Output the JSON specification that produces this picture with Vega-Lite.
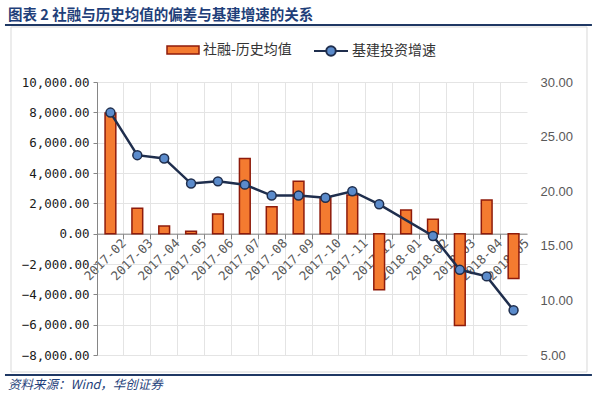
{
  "$schema": "https://vega.github.io/schema/vega-lite/v6.json",
  "width": 430,
  "height": 273,
  "autosize": {"type": "none"},
  "padding": {"left": 97, "top": 82, "right": 73, "bottom": 42},
  "background": "white",
  "title": {
    "text": "图表 2 社融与历史均值的偏差与基建增速的关系",
    "anchor": "start",
    "frame": "group",
    "dx": -89,
    "offset": 0,
    "baseline": "top",
    "font": "Noto Sans CJK SC",
    "fontSize": 14.5,
    "fontWeight": "bold",
    "color": "#1F3F7A"
  },
  "config": {"view": {"stroke": null}},
  "datasets": {
    "main": [
      {"month": "2017-02", "dev": 7950, "infra": 27.2},
      {"month": "2017-03", "dev": 1670, "infra": 23.3},
      {"month": "2017-04", "dev": 500, "infra": 23.0},
      {"month": "2017-05", "dev": 160, "infra": 20.7},
      {"month": "2017-06", "dev": 1300, "infra": 20.9},
      {"month": "2017-07", "dev": 4950, "infra": 20.6},
      {"month": "2017-08", "dev": 1780, "infra": 19.6},
      {"month": "2017-09", "dev": 3450, "infra": 19.6},
      {"month": "2017-10", "dev": 2400, "infra": 19.4},
      {"month": "2017-11", "dev": 2550, "infra": 20.0},
      {"month": "2017-12", "dev": -3700, "infra": 18.8},
      {"month": "2018-01", "dev": 1560, "infra": null},
      {"month": "2018-02", "dev": 950, "infra": 15.9},
      {"month": "2018-03", "dev": -6050, "infra": 12.8},
      {"month": "2018-04", "dev": 2220, "infra": 12.2},
      {"month": "2018-05", "dev": -2950, "infra": 9.1}
    ]
  },
  "layer": [
    {
      "data": {"values": [{"x": -0.2, "x2": 1.1395, "y": 1.2015, "y2": -0.0623}]},
      "mark": {"type": "rect", "fill": null, "stroke": "#d9d9d9", "strokeWidth": 1},
      "encoding": {
        "x": {"field": "x", "type": "quantitative", "scale": {"domain": [0, 1], "nice": false, "zero": false}, "axis": null},
        "x2": {"field": "x2"},
        "y": {"field": "y", "type": "quantitative", "scale": {"domain": [0, 1], "nice": false, "zero": false}, "axis": null},
        "y2": {"field": "y2"}
      }
    },
    {
      "data": {"values": [
        {"x": -0.214, "x2": 1.151, "y": 1.2088},
        {"x": -0.214, "x2": 1.151, "y": -0.0733}
      ]},
      "mark": {"type": "rule", "stroke": "#1F3864", "strokeWidth": 2.2},
      "encoding": {
        "x": {"field": "x", "type": "quantitative", "scale": {"domain": [0, 1], "nice": false, "zero": false}, "axis": null},
        "x2": {"field": "x2"},
        "y": {"field": "y", "type": "quantitative", "scale": {"domain": [0, 1], "nice": false, "zero": false}, "axis": null}
      }
    },
    {
      "data": {"values": [{"x": -0.207, "y": -0.1099, "label": "资料来源：Wind，华创证券"}]},
      "mark": {"type": "text", "align": "left", "baseline": "middle", "font": "Noto Sans CJK SC", "fontSize": 12.5, "fontStyle": "italic", "color": "#1F3F7A"},
      "encoding": {
        "x": {"field": "x", "type": "quantitative", "scale": {"domain": [0, 1], "nice": false, "zero": false}, "axis": null},
        "y": {"field": "y", "type": "quantitative", "scale": {"domain": [0, 1], "nice": false, "zero": false}, "axis": null},
        "text": {"field": "label"}
      }
    },
    {
      "data": {"name": "main"},
      "mark": {"type": "bar", "width": {"band": 0.4}, "stroke": "#8E1B0B", "strokeWidth": 1.5},
      "encoding": {
        "x": {
          "field": "month", "type": "ordinal",
          "scale": {"type": "band", "paddingInner": 0, "paddingOuter": 0, "domain": ["2017-02","2017-03","2017-04","2017-05","2017-06","2017-07","2017-08","2017-09","2017-10","2017-11","2017-12","2018-01","2018-02","2018-03","2018-04","2018-05"]},
          "axis": {
            "orient": "bottom", "offset": -121.33, "title": null,
            "bandPosition": 0, "labelOffset": 13.44,
            "labelAngle": -45, "labelAlign": "right", "labelBaseline": "middle",
            "labelFont": "DejaVu Sans Mono", "labelFontSize": 12.5, "labelColor": "#595959",
            "labelPadding": 2, "tickSize": 5, "tickColor": "#868686", "domainColor": "#868686",
            "grid": true, "gridColor": "#e4e4e4", "labelOverlap": false
          }
        },
        "y": {
          "field": "dev", "type": "quantitative",
          "scale": {"domain": [-8000, 10000], "nice": false},
          "axis": {
            "orient": "left", "title": null, "values": [-8000,-6000,-4000,-2000,0,2000,4000,6000,8000,10000],
            "format": ",.2f", "grid": true, "gridColor": "#e4e4e4", "domainColor": "#868686",
            "tickColor": "#868686", "tickSize": 4, "labelFont": "DejaVu Sans Mono", "labelFontSize": 12.5,
            "labelColor": "#1a1a1a", "labelPadding": 4
          }
        },
        "fill": {
          "datum": "社融-历史均值",
          "scale": {"range": ["#F47B30"]},
          "legend": {
            "orient": "none", "legendX": 69, "legendY": -49, "title": null, "padding": 0,
            "symbolType": "M-1,-0.25H1V0.25H-1Z", "symbolSize": 1024,
            "symbolStrokeColor": "#8E1B0B", "symbolStrokeWidth": 1.5,
            "labelFont": "Noto Sans CJK SC", "labelFontSize": 14, "labelColor": "#333333", "labelOffset": 3
          }
        }
      }
    },
    {
      "data": {"name": "main"},
      "transform": [{"filter": "datum.infra != null"}],
      "mark": {"type": "line", "strokeWidth": 2.5, "point": {"filled": true, "fill": "#5B8BCB", "stroke": "#1F2E4D", "strokeWidth": 1.5, "size": 80}},
      "encoding": {
        "x": {
          "field": "month", "type": "ordinal",
          "scale": {"type": "band", "paddingInner": 0, "paddingOuter": 0, "domain": ["2017-02","2017-03","2017-04","2017-05","2017-06","2017-07","2017-08","2017-09","2017-10","2017-11","2017-12","2018-01","2018-02","2018-03","2018-04","2018-05"]},
          "axis": null
        },
        "y": {
          "field": "infra", "type": "quantitative",
          "scale": {"domain": [5, 30], "nice": false, "zero": false},
          "axis": {
            "orient": "right", "title": null, "values": [5,10,15,20,25,30], "format": ".2f",
            "grid": false, "domain": false, "ticks": false,
            "labelFont": "Liberation Sans", "labelFontSize": 13, "labelColor": "#595959", "labelPadding": 13
          }
        },
        "stroke": {
          "datum": "基建投资增速",
          "scale": {"range": ["#1F2E4D"]},
          "legend": {
            "orient": "none", "legendX": 216, "legendY": -49, "title": null, "padding": 0,
            "symbolType": "M-1,0H-0.28M0.28,0H1M-0.28,0A0.28,0.28 0 1,0 0.28,0A0.28,0.28 0 1,0 -0.28,0Z",
            "symbolSize": 1156, "symbolStrokeWidth": 2, "symbolFillColor": "#5B8BCB",
            "labelFont": "Noto Sans CJK SC", "labelFontSize": 14, "labelColor": "#333333", "labelOffset": 3,
            "encode": {"symbols": {"update": {"fill": {"value": "#5B8BCB"}, "stroke": {"value": "#1F2E4D"}}}}
          }
        }
      }
    }
  ],
  "resolve": {
    "scale": {"x": "independent", "y": "independent", "fill": "independent", "stroke": "independent"},
    "axis": {"x": "independent", "y": "independent"}
  }
}
